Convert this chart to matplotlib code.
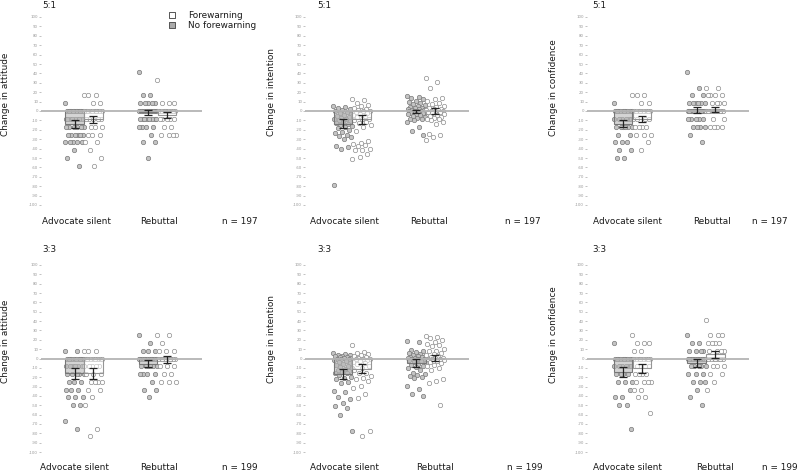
import matplotlib
matplotlib.use("Agg")
import matplotlib.pyplot as plt
import numpy as np

# ---------------- data ----------------
categories = ["Advocate silent", "Rebuttal"]
conditions = ["No forewarning", "Forewarning"]      # drawn left (grey) / right (white)
legend_labels = ["Forewarning", "No forewarning"]
row_titles = ["5:1", "3:3"]
measure_labels = ["Change in attitude", "Change in intention", "Change in confidence"]
n_labels = ["n = 197", "n = 199"]
ytick_values = list(range(-100, 101, 10))

# 5:1 attitude
att51_as_nf = [8.3, 0, 0, 0, 0, 0, 0, 0, 0, 0, 0, 0, 0, -8.3, -8.3, -8.3, -8.3, -8.3, -8.3, -8.3, -8.3,
               -16.7, -16.7, -16.7, -16.7, -16.7, -16.7, -25, -25, -25, -25, -25, -25,
               -33.3, -33.3, -33.3, -33.3, -33.3, -41.7, -50, -58.3]
att51_as_fw = [16.7, 16.7, 16.7, 8.3, 8.3, 0, 0, 0, 0, 0, 0, 0, 0, 0, 0, -8.3, -8.3, -8.3, -8.3, -8.3,
               -16.7, -16.7, -16.7, -25, -25, -25, -33.3, -33.3, -41.7, -50, -58.3]
att51_rb_nf = [41.7, 16.7, 16.7, 8.3, 8.3, 8.3, 8.3, 8.3, 0, 0, 0, 0, 0, 0, 0, 0, 0, 0, 0, 0, 0, 0, 0,
               -8.3, -8.3, -8.3, -8.3, -8.3, -8.3, -8.3, -8.3, -16.7, -16.7, -16.7, -16.7,
               -25, -33.3, -33.3, -50]
att51_rb_fw = [33.3, 8.3, 8.3, 8.3, 0, 0, 0, 0, 0, 0, 0, 0, 0, 0, -8.3, -8.3, -8.3, -8.3, -8.3,
               -16.7, -16.7, -25, -25, -25, -25]
att51_mean = [-14, -9, -1.5, -4.5]
att51_err = [4, 4, 3, 3]

# 5:1 intention
int51_as_nf = [5, 4, 3, 2, 1, 0, -1, -2, -3, -4, -5, -6, -7, -8, -9, -10, -11, -12, -13, -14, -15,
               -16, -17, -18, -20, -22, -23, -25, -27, -28, -30, -37, -38, -40, -79]
int51_as_fw = [13, 12, 8, 6, 5, 3, 2, 1, 0, 0, -1, -2, -3, -4, -5, -6, -8, -9, -10, -12, -13, -15,
               -17, -21, -32, -34, -35, -36, -37, -40, -41, -42, -46, -49, -51]
int51_rb_nf = [16, 15, 14, 13, 11, 10, 8, 7, 6, 5, 4, 3, 3, 2, 2, 1, 1, 0, 0, 0, 0, -1, -1, -2, -2,
               -3, -3, -4, -5, -6, -7, -8, -9, -10, -12, -17, -21, -25]
int51_rb_fw = [35, 31, 24, 14, 13, 11, 9, 7, 5, 4, 3, 2, 2, 1, 1, 0, 0, 0, -1, -1, -2, -3, -4, -5,
               -6, -7, -8, -9, -10, -12, -14, -24, -26, -28, -31]
int51_mean = [-13.5, -9, -0.5, 0]
int51_err = [4.5, 4.5, 2, 3]

# 5:1 confidence
conf51_as_nf = [8.3, 0, 0, 0, 0, 0, 0, 0, 0, 0, 0, -8.3, -8.3, -8.3, -8.3, -8.3, -8.3,
                -16.7, -16.7, -16.7, -16.7, -16.7, -16.7, -25, -25, -33.3, -33.3, -33.3,
                -41.7, -41.7, -50, -50]
conf51_as_fw = [16.7, 16.7, 16.7, 8.3, 8.3, 0, 0, 0, 0, 0, 0, 0, 0, -8.3, -8.3, -8.3, -8.3,
                -16.7, -16.7, -16.7, -16.7, -25, -25, -25, -33.3, -41.7]
conf51_rb_nf = [41.7, 25, 16.7, 16.7, 8.3, 8.3, 8.3, 8.3, 8.3, 8.3, 0, 0, 0, 0, 0, 0, 0, 0, 0, 0,
                0, 0, -8.3, -8.3, -8.3, -8.3, -8.3, -16.7, -16.7, -16.7, -16.7, -25, -33.3]
conf51_rb_fw = [25, 25, 16.7, 16.7, 16.7, 16.7, 8.3, 8.3, 8.3, 8.3, 0, 0, 0, 0, 0, 0, 0, 0, 0, 0,
                -8.3, -8.3, -16.7, -16.7, -16.7, -16.7]
conf51_mean = [-13.5, -8.5, 1, 1.5]
conf51_err = [4, 3.5, 3, 3]

# 3:3 attitude
att33_as_nf = [8.3, 8.3, 0, 0, 0, 0, 0, 0, 0, 0, 0, 0, -8.3, -8.3, -8.3, -8.3, -8.3, -8.3,
               -16.7, -16.7, -16.7, -16.7, -16.7, -25, -25, -25, -33.3, -33.3, -33.3,
               -41.7, -41.7, -41.7, -50, -50, -66.7, -75]
att33_as_fw = [8.3, 8.3, 8.3, 0, 0, 0, 0, 0, 0, 0, 0, -8.3, -8.3, -8.3, -8.3, -8.3,
               -16.7, -16.7, -16.7, -25, -25, -25, -25, -33.3, -33.3, -41.7, -50, -75, -83.3]
att33_rb_nf = [25, 16.7, 8.3, 8.3, 8.3, 0, 0, 0, 0, 0, 0, 0, 0, 0, 0, 0, 0, -8.3, -8.3, -8.3,
               -8.3, -8.3, -8.3, -16.7, -16.7, -16.7, -16.7, -25, -33.3, -33.3, -41.7]
att33_rb_fw = [25, 25, 16.7, 8.3, 8.3, 8.3, 0, 0, 0, 0, 0, 0, 0, 0, 0, 0, -8.3, -8.3, -8.3,
               -16.7, -16.7, -25, -25, -25]
att33_mean = [-16, -16, -5.5, -1]
att33_err = [5.5, 5.5, 4, 4]

# 3:3 intention
int33_as_nf = [6, 5, 4, 4, 3, 3, 2, 2, 1, 1, 0, 0, -1, -2, -3, -4, -5, -6, -7, -8, -9, -10, -11,
               -12, -13, -14, -15, -16, -18, -20, -21, -22, -25, -26, -35, -36, -41, -43, -48,
               -51, -53, -60, -78]
int33_as_fw = [14, 7, 6, 5, 4, 3, 2, 1, 0, 0, -1, -2, -3, -4, -5, -6, -8, -10, -12, -15, -16,
               -19, -21, -22, -24, -29, -32, -38, -42, -78, -83]
int33_rb_nf = [19, 18, 9, 8, 7, 6, 5, 4, 3, 3, 2, 2, 1, 1, 0, 0, -1, -1, -2, -3, -4, -5, -6, -7,
               -8, -9, -10, -12, -15, -17, -18, -19, -20, -21, -29, -33, -38, -40]
int33_rb_fw = [24, 23, 22, 20, 18, 15, 14, 13, 10, 8, 8, 6, 5, 4, 3, 2, 1, 1, 0, 0, -1, -2, -3,
               -4, -5, -7, -8, -10, -12, -22, -24, -26, -50]
int33_mean = [-16.5, -11, -5, 0.5]
int33_err = [5.5, 5, 4, 3.5]

# 3:3 confidence
conf33_as_nf = [16.7, 0, 0, 0, 0, 0, 0, 0, 0, 0, 0, -8.3, -8.3, -8.3, -8.3, -8.3, -8.3,
                -16.7, -16.7, -16.7, -16.7, -25, -25, -25, -33.3, -41.7, -41.7, -50, -50, -75]
conf33_as_fw = [25, 16.7, 16.7, 16.7, 8.3, 8.3, 0, 0, 0, 0, 0, 0, 0, 0, -8.3, -8.3, -8.3,
                -16.7, -16.7, -16.7, -16.7, -25, -25, -25, -25, -33.3, -33.3, -41.7, -41.7, -58.3]
conf33_rb_nf = [25, 16.7, 16.7, 8.3, 8.3, 8.3, 8.3, 0, 0, 0, 0, 0, 0, 0, 0, 0, 0, 0, 0,
                -8.3, -8.3, -8.3, -8.3, -8.3, -16.7, -16.7, -16.7, -25, -25, -25, -33.3, -41.7, -50]
conf33_rb_fw = [41.7, 25, 25, 25, 16.7, 16.7, 16.7, 16.7, 8.3, 8.3, 8.3, 8.3, 0, 0, 0, 0, 0, 0,
                0, 0, -8.3, -8.3, -8.3, -16.7, -16.7, -25, -33.3]
conf33_mean = [-14.5, -10.5, -4.5, 4.5]
conf33_err = [5.5, 5, 4.5, 4]

panels = [
    [(att51_as_nf, att51_as_fw, att51_rb_nf, att51_rb_fw, att51_mean, att51_err),
     (int51_as_nf, int51_as_fw, int51_rb_nf, int51_rb_fw, int51_mean, int51_err),
     (conf51_as_nf, conf51_as_fw, conf51_rb_nf, conf51_rb_fw, conf51_mean, conf51_err)],
    [(att33_as_nf, att33_as_fw, att33_rb_nf, att33_rb_fw, att33_mean, att33_err),
     (int33_as_nf, int33_as_fw, int33_rb_nf, int33_rb_fw, int33_mean, int33_err),
     (conf33_as_nf, conf33_as_fw, conf33_rb_nf, conf33_rb_fw, conf33_mean, conf33_err)],
]

# ---------------- layout (pixels) ----------------
W, H = 800, 471
col_left = [41, 305, 587]
col_right = [202, 469, 749]
col_c0 = [84, 352.3, 632.5]
cat_step = 73.5
row_y100 = [17, 265]
row_ym100 = [205, 452]
bar_w = 0.252
jit_w = 0.26

title_xy = [[(42, 5), (317, 5), (592, 5)], [(42, 250), (317, 250), (592, 250)]]
ylab_x = [5, 271, 554]
ylab_start = [136, 383]
cat_label_x = [[(76, 159), (344, 428.5), (627.5, 712)], [(75, 158.5), (345, 435), (627.5, 715)]]
cat_label_y = [222, 467]
n_x = [[240, 523, 770], [240, 525, 780]]

plt.rcParams["font.family"] = ["DejaVu Sans"]
fig = plt.figure(figsize=(W / 100, H / 100), dpi=100)
fig.patch.set_facecolor("white")

FS = 6.4
txt_color = "#1a1a1a"
golden = 0.6180339887

for r in range(2):
    for c in range(3):
        as_nf, as_fw, rb_nf, rb_fw, means, errs = panels[r][c]
        groups = [as_nf, as_fw, rb_nf, rb_fw]
        span = row_ym100[r] - row_y100[r]
        ppu = span / 200.0
        top = row_y100[r] - 2 * ppu
        bot = row_ym100[r] + 2 * ppu
        L, R = col_left[c], col_right[c]
        ax = fig.add_axes([L / W, 1 - bot / H, (R - L) / W, (bot - top) / H])
        ax.set_ylim(-102, 102)
        ax.set_xlim((L - col_c0[c]) / cat_step, (R - col_c0[c]) / cat_step)
        ax.patch.set_alpha(0)
        for s in ax.spines.values():
            s.set_visible(False)
        ax.set_xticks([])
        ax.set_yticks(ytick_values)
        ax.set_yticklabels([str(v) for v in ytick_values])
        ax.tick_params(axis="y", length=1.5, width=0.5, color="#aaaaaa",
                       labelsize=2.8, labelcolor="#999999", pad=0.6)

        for gi, vals in enumerate(groups):
            cat = gi // 2
            cond = gi % 2
            xc = cat + (-0.127 if cond == 0 else 0.127)
            vals = np.asarray(vals, dtype=float)
            offs = np.array([((i * golden) % 1.0) - 0.5 for i in range(len(vals))]) * jit_w
            if cond == 0:
                ax.scatter(xc + offs, vals, s=10, facecolor="#c4c4c4", edgecolor="#7a7a7a",
                           linewidths=0.5, zorder=2)
            else:
                ax.scatter(xc + offs, vals, s=10, facecolor="white", edgecolor="#8e8e8e",
                           linewidths=0.5, zorder=2)
            if cond == 0:
                ax.bar(xc, means[gi], width=bar_w, color="#b8b8b8", alpha=0.6,
                       edgecolor="none", zorder=3)
                ax.bar(xc, means[gi], width=bar_w, fill=False, edgecolor="#777777",
                       linewidth=0.8, zorder=3)
            else:
                ax.bar(xc, means[gi], width=bar_w, color="white", alpha=0.5,
                       edgecolor="none", zorder=3)
                ax.bar(xc, means[gi], width=bar_w, fill=False, edgecolor="#959595",
                       linewidth=0.8, zorder=3)
            ax.errorbar(xc, means[gi], yerr=errs[gi], fmt="none", ecolor="#222222",
                        elinewidth=0.9, capsize=3, capthick=0.9, zorder=5)
        ax.axhline(0, color="#b4b4b4", lw=1.3, zorder=4)

# overlay for texts
ov = fig.add_axes([0, 0, 1, 1])
ov.set_xlim(0, W)
ov.set_ylim(H, 0)
ov.axis("off")
ov.patch.set_alpha(0)

for r in range(2):
    for c in range(3):
        tx, ty = title_xy[r][c]
        ov.text(tx, ty, row_titles[r], fontsize=FS, color=txt_color, ha="left", va="center")
        ov.text(ylab_x[c], ylab_start[r], measure_labels[c], fontsize=FS, color=txt_color,
                rotation=90, rotation_mode="anchor", ha="left", va="center")
        for k in range(2):
            ov.text(cat_label_x[r][c][k], cat_label_y[r], categories[k], fontsize=FS,
                    color=txt_color, ha="center", va="center")
        ov.text(n_x[r][c], cat_label_y[r], n_labels[r], fontsize=FS, color=txt_color,
                ha="center", va="center")

# legend
leg_face = ["white", "#aaaaaa"]
for i, lab in enumerate(legend_labels):
    y = 15 + 10 * i
    ov.scatter([172], [y], marker="s", s=14, facecolor=leg_face[i], edgecolor="#555555",
               linewidths=0.7)
    ov.text(188, y, lab, fontsize=FS, color=txt_color, ha="left", va="center")

fig.savefig("out.png", dpi=100, facecolor="white")
